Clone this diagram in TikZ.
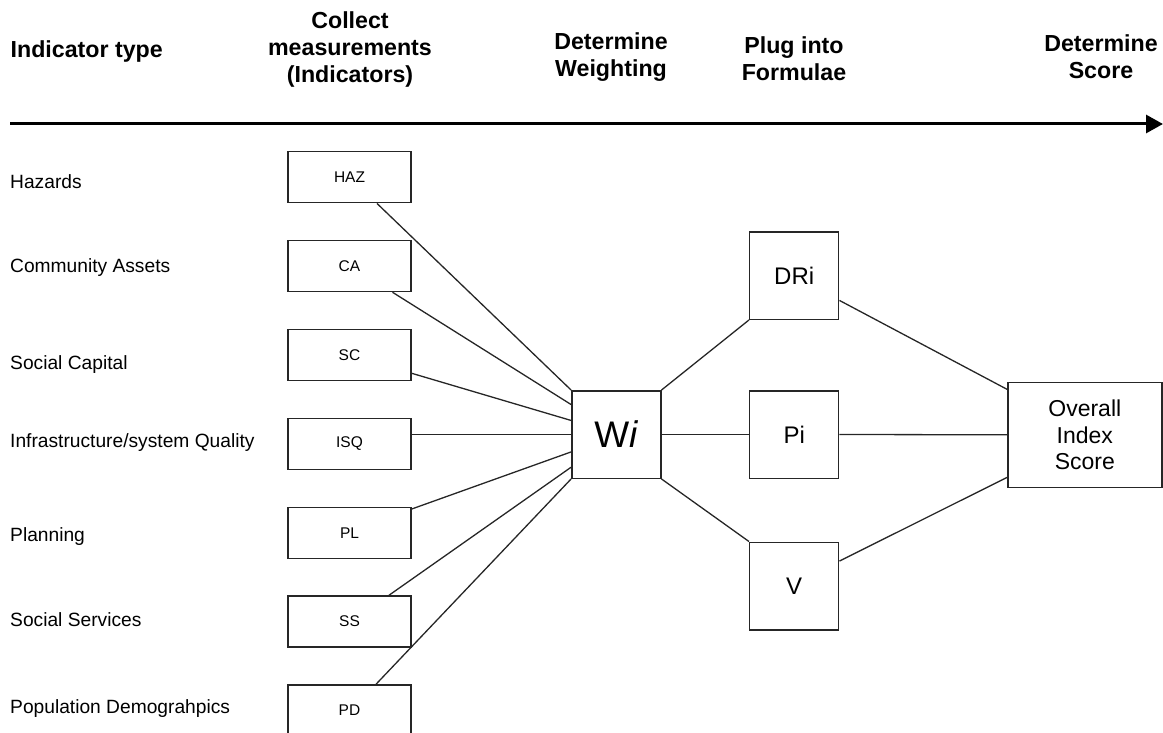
\documentclass[tikz,border=0pt]{standalone}
\usepackage{fontspec}
\setmainfont{Liberation Sans}
\usetikzlibrary{arrows.meta,calc}
\definecolor{ink}{HTML}{262626}
\tikzset{
  hdr/.style={font=\bfseries\fontsize{23.2}{27}\selectfont, align=center, inner sep=0pt, text=black},
  lbl/.style={font=\fontsize{19.2}{22}\selectfont, anchor=base west, inner sep=0pt, text=black},
  ind/.style={draw=ink, line width=1.5pt, minimum width=123pt, minimum height=51pt, inner sep=0pt, font=\fontsize{15.5}{17}\selectfont},
  mid/.style={draw=ink, line width=1.5pt, minimum width=89pt, minimum height=87.5pt, inner sep=0pt, font=\fontsize{24}{27}\selectfont},
  conn/.style={draw=ink, line width=1.3pt},
  axis/.style={draw=black, line width=3pt, -{Triangle[length=17pt,width=18pt]}}
}
\begin{document}
\begin{tikzpicture}[x=1pt,y=-1pt]
\useasboundingbox (0,0) rectangle (1163,733);
\clip (0,0) rectangle (1163,733);
% headers
\node[hdr, anchor=base west] (h1) at (10.5,57.3) {Indicator type};
\node[hdr] (h2) at (350,50) {Collect\\measurements\\(Indicators)};
\node[hdr] (h3) at (611,57) {Determine\\Weighting};
\node[hdr] (h4) at (794,58.5) {Plug into\\Formulae};
\node[hdr] (h5) at (1101,57) {Determine\\Score};
% axis arrow
\coordinate (as) at (10,124);
\coordinate (ae) at (1163,124);
\draw[axis] (as) -- (ae);
% left labels
\node[lbl] (l1) at (10,188.3) {Hazards};
\node[lbl] (l2) at (10,272.3) {Community Assets};
\node[lbl] (l3) at (10,369) {Social Capital};
\node[lbl] (l4) at (10,447.7) {Infrastructure/system Quality};
\node[lbl] (l5) at (10,541.5) {Planning};
\node[lbl] (l6) at (10,626) {Social Services};
\node[lbl] (l7) at (10,713.3) {Population Demograhpics};
% indicator boxes
\node[ind] (haz) at (349.5,177.2) {HAZ};
\node[ind] (ca)  at (349.5,266) {CA};
\node[ind] (sc)  at (349.5,355) {SC};
\node[ind] (isq) at (349.5,444) {ISQ};
\node[ind] (pl)  at (349.5,533) {PL};
\node[ind] (ss)  at (349.5,621.5) {SS};
\node[ind] (pd)  at (349.5,710.5) {PD};
% weighting
\node[mid, font=\fontsize{37}{40}\selectfont] (wi) at (616.3,434.5) {W\textit{i}};
% formulae
\node[mid] (dri) at (794.2,275.5) {DRi};
\node[mid] (pi)  at (794.2,434.5) {Pi};
\node[mid] (v)   at (794.2,586) {V};
% overall
\node[draw=ink, line width=1.5pt, minimum width=154pt, minimum height=105pt, inner sep=0pt, align=center, font=\fontsize{23}{26.7}\selectfont] (ov) at (1084.8,434.8) {Overall\\Index\\Score};
% connectors to Wi
\draw[conn] ([xshift=27.5pt]haz.south) -- (wi.north west);
\draw[conn] ([xshift=43pt]ca.south) -- ($(wi.north west)!0.163!(wi.south west)$);
\draw[conn] ([yshift=-18.3pt]sc.east) -- ($(wi.north west)!0.342!(wi.south west)$);
\draw[conn] (wi.west -| isq.east) -- (wi.west);
\draw[conn] ([yshift=24pt]pl.east) -- ($(wi.north west)!0.696!(wi.south west)$);
\draw[conn] ([xshift=39.5pt]ss.north) -- ($(wi.north west)!0.868!(wi.south west)$);
\draw[conn] ([xshift=26.5pt]pd.north) -- (wi.south west);
% Wi to formulae
\draw[conn] (wi.north east) -- (dri.south west);
\draw[conn] (wi.east) -- (pi.west);
\draw[conn] (wi.south east) -- (v.north west);
% formulae to overall
\draw[conn] ($(dri.north east)!0.78!(dri.south east)$) -- ($(ov.north west)!0.073!(ov.south west)$);
\draw[conn] (pi.east) -- (ov.west);
\draw[conn] ($(v.north east)!0.22!(v.south east)$) -- ($(ov.north west)!0.9!(ov.south west)$);
\end{tikzpicture}
\end{document}
